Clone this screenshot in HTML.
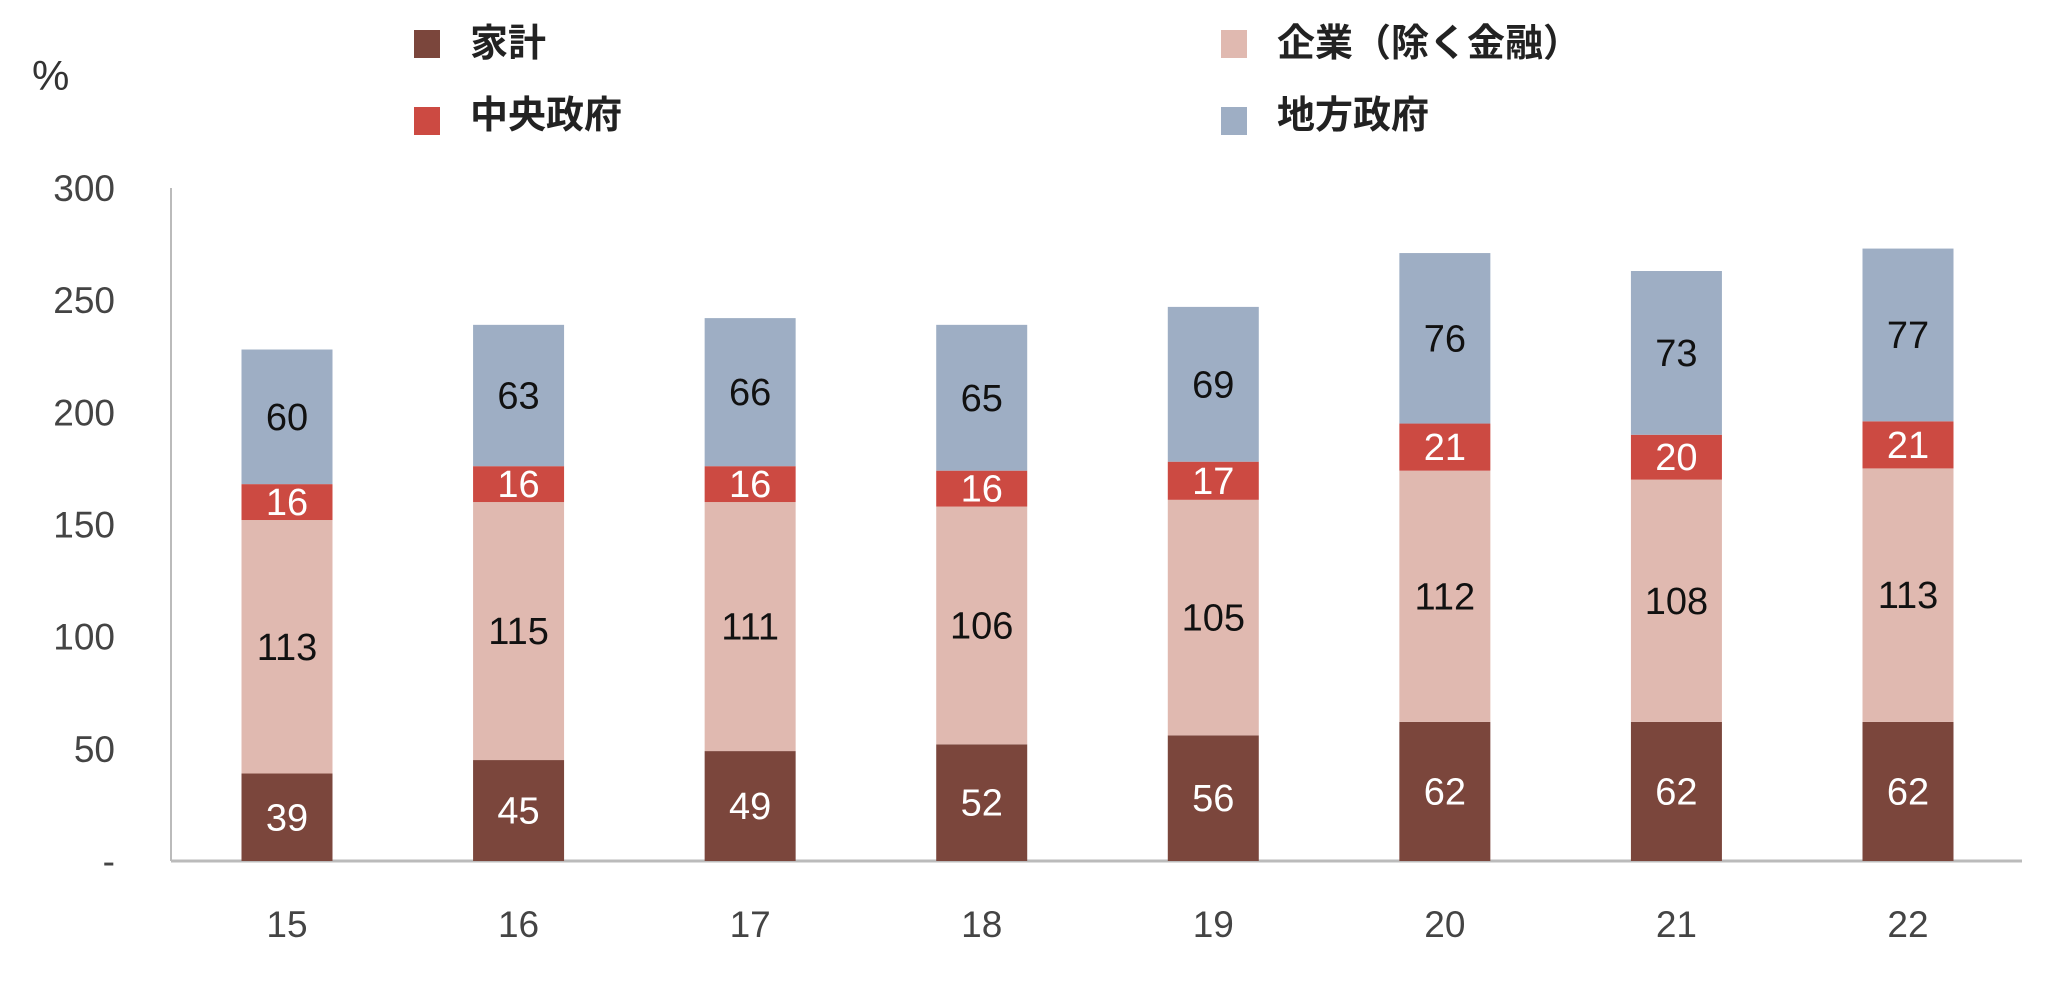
<!DOCTYPE html>
<html><head><meta charset="utf-8"><style>
html,body{margin:0;padding:0;background:#fff;}
svg{display:block;font-family:"Liberation Sans","Noto Sans CJK JP",sans-serif;}
</style></head><body>
<svg id="chart" width="2048" height="982" viewBox="0 0 2048 982">
<text x="32" y="90" font-size="42" fill="#333">%</text>
<g>
 <g><rect x="414" y="30" width="26" height="28" fill="#7b463c"/><text x="470" y="56" font-size="38" font-weight="bold" fill="#222">家計</text></g>
 <g><rect x="1221" y="30" width="26" height="28" fill="#e0b9b0"/><text x="1277" y="56" font-size="38" font-weight="bold" fill="#222">企業（除く金融）</text></g>
 <g><rect x="414" y="107" width="26" height="28" fill="#cc4a42"/><text x="470" y="128" font-size="38" font-weight="bold" fill="#222">中央政府</text></g>
 <g><rect x="1221" y="107" width="26" height="28" fill="#9eaec4"/><text x="1277" y="128" font-size="38" font-weight="bold" fill="#222">地方政府</text></g>
</g>
<g id="axes"></g>
<g id="bars"></g>
</svg>
<script>
const categories = ["15","16","17","18","19","20","21","22"];
const household = [39,45,49,52,56,62,62,62];
const corporate = [113,115,111,106,105,112,108,113];
const centralGov = [16,16,16,16,17,21,20,21];
const localGov = [60,63,66,65,69,76,73,77];
const yTicks = [0,50,100,150,200,250,300];
const yTickLabels = ["-","50","100","150","200","250","300"];

const NS="http://www.w3.org/2000/svg";
const x0=171, x1=2022, y0=861, yTop=188, yMax=300;
const y = v => y0 - v/yMax*(y0-yTop);
const band = (x1-x0-20)/categories.length;
const xc = i => x0 + 56 + band/2 + i*band - 40 + (i*0);
const barW=91;
function mk(tag,attrs,parent){const e=document.createElementNS(NS,tag);for(const k in attrs)e.setAttribute(k,attrs[k]);parent.appendChild(e);return e;}
const axes=document.getElementById('axes'), bars=document.getElementById('bars');
const yl=mk('line',{x1:x0,y1:yTop,x2:x0,y2:y0,stroke:'#bbb','stroke-width':2},axes);


const xl=mk('line',{x1:x0,y1:y0,x2:x1,y2:y0,stroke:'#bbb','stroke-width':3},axes);


yTicks.forEach((t,i)=>{
 const e=mk('text',{x:115,y:y(t)+13,'font-size':37,'text-anchor':'end',fill:'#444'},axes);
 e.textContent=yTickLabels[i];
 
 
});
const series=[
 {d:household,c:'#7b463c',tc:'#fff',n:'household'},
 {d:corporate,c:'#e0b9b0',tc:'#111',n:'corporate'},
 {d:centralGov,c:'#cc4a42',tc:'#fff',n:'central-gov'},
 {d:localGov,c:'#9eaec4',tc:'#111',n:'local-gov'}
];
const centers=[287,518,750,982,1213,1444,1676,1908];
categories.forEach((cat,i)=>{
 const cx = x0 + (i+0.5)*((centers[7]-centers[0])/7) + (centers[0]-x0-((centers[7]-centers[0])/7)/2);
 let acc=0;
 series.forEach(s=>{
  const v=s.d[i];
  const r=mk('rect',{x:cx-barW/2,y:y(acc+v),width:barW,height:y(acc)-y(acc+v),fill:s.c},bars);
  
  
  const t=mk('text',{x:cx,y:(y(acc)+y(acc+v))/2+13,'font-size':38,'text-anchor':'middle',fill:s.tc},bars);
  t.textContent=v;
  
  
  acc+=v;
 });
 const xt=mk('text',{x:cx,y:937,'font-size':37,'text-anchor':'middle',fill:'#444'},axes);
 xt.textContent=cat;
 
 
});
</script>
</body></html>
